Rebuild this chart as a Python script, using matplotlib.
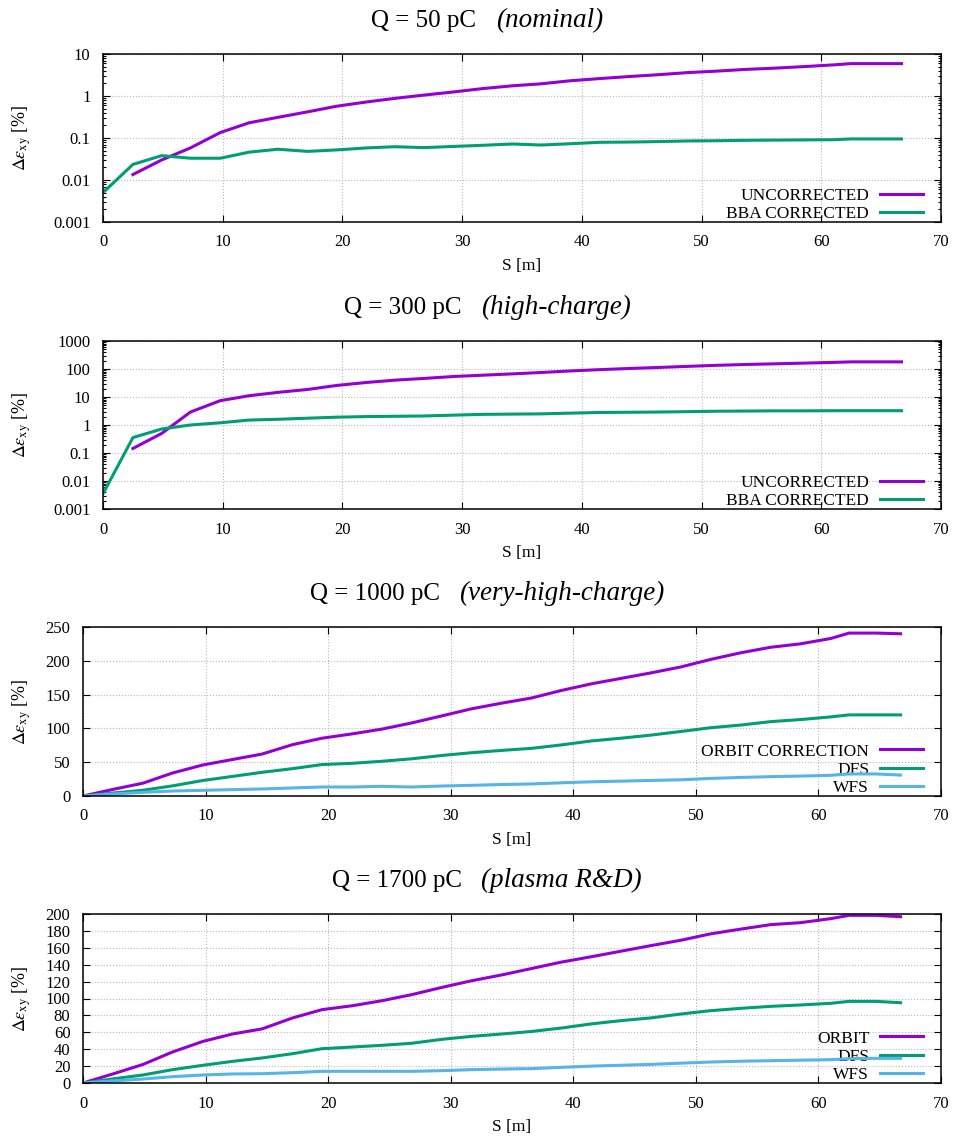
import numpy as np
import matplotlib
matplotlib.use('Agg')
import matplotlib.pyplot as plt
from matplotlib.ticker import LogLocator, NullFormatter, FixedLocator
from matplotlib.offsetbox import TextArea, HPacker, AnchoredOffsetbox

plt.rcParams['font.family'] = ['Liberation Serif', 'DejaVu Serif']
plt.rcParams['mathtext.fontset'] = 'stix'

# Position along the linac [m]
S = [0, 2.5, 4.9, 7.3, 9.8, 12.2, 14.6, 17.1, 19.5, 22.0, 24.4, 26.8, 29.3, 31.7,
     34.2, 36.6, 39.0, 41.5, 43.9, 46.3, 48.8, 51.2, 53.7, 56.1, 58.5, 61.0,
     62.5, 64.7, 66.7]
nan = np.nan

# Q = 50 pC
unc_50 = [nan, 0.0135, 0.030, 0.058, 0.135, 0.23, 0.31, 0.42, 0.57, 0.72, 0.88,
          1.05, 1.25, 1.5, 1.75, 1.95, 2.3, 2.6, 2.9, 3.2, 3.6, 3.9, 4.3, 4.6,
          5.0, 5.5, 5.9, 5.9, 5.9]
bba_50 = [0.005, 0.0235, 0.038, 0.033, 0.033, 0.046, 0.054, 0.048, 0.052, 0.058,
          0.062, 0.059, 0.063, 0.067, 0.072, 0.068, 0.073, 0.079, 0.080, 0.082,
          0.085, 0.086, 0.088, 0.089, 0.090, 0.091, 0.095, 0.095, 0.095]

# Q = 300 pC
unc_300 = [nan, 0.145, 0.5, 2.9, 7.4, 11.1, 14.6, 18.6, 25.8, 33, 40, 46, 54, 60,
           67, 75, 85, 95, 104, 113, 124, 135, 145, 153, 162, 172, 180, 180, 180]
bba_300 = [0.0035, 0.355, 0.72, 1.0, 1.2, 1.5, 1.6, 1.75, 1.9, 2.0, 2.05, 2.1,
           2.25, 2.4, 2.45, 2.5, 2.65, 2.8, 2.85, 2.9, 3.0, 3.1, 3.15, 3.2, 3.2,
           3.24, 3.24, 3.24, 3.24]

# Q = 1000 pC
orbit_1000 = [0, 10, 19, 34, 46, 54, 62, 76, 85.5, 92, 99, 108, 118.6, 129, 137.5,
              145, 156, 166, 174, 182, 191, 202, 212, 220, 225, 233, 241, 241, 240]
dfs_1000 = [0, 4.5, 8.5, 15, 23, 29, 35, 40.5, 46.5, 48.4, 51.4, 55, 60, 64, 67.5,
            70.5, 75.5, 81.5, 85.5, 90, 95.5, 101, 105, 110, 113, 117, 120, 120, 120]
wfs_1000 = [0, 3, 5.4, 7.4, 8.4, 9.4, 10.4, 11.9, 13.3, 13.3, 14.3, 13.3, 14.8,
            15.8, 17, 17.8, 19.5, 21, 22, 23, 24, 26, 27.5, 28.6, 29.5, 30.6, 32.6,
            32.6, 31]

# Q = 1700 pC
orbit_1700 = [0, 11, 22, 36.7, 49.3, 58, 64, 77, 86.8, 91.5, 97.4, 104.5, 113.2,
              121, 128, 135.5, 143, 149.5, 156, 162.5, 169, 176.5, 182.2, 187.4,
              189.7, 194.5, 198.4, 198.4, 196.8]
dfs_1700 = [0, 5, 9.5, 15.8, 21, 25.6, 29.6, 34.7, 40.6, 42.6, 44.6, 47, 51.7, 55.2,
            58, 61, 65, 70, 73.8, 77, 81.7, 85.6, 88.4, 90.7, 92.3, 94.3, 96.6,
            96.6, 95]
wfs_1700 = [0, 2.5, 4.7, 7.5, 9.5, 10.7, 11, 12.2, 13.8, 13.8, 13.8, 13.8, 14.6,
            15.8, 16.5, 17, 18.5, 20, 21, 22, 23.5, 24.8, 25.8, 26.4, 27, 27.6,
            28.8, 29.2, 29.2]

log_ticks_50 = [0.001, 0.01, 0.1, 1, 10]
log_labels_50 = ['0.001', '0.01', '0.1', '1', '10']
log_ticks_300 = [0.001, 0.01, 0.1, 1, 10, 100, 1000]
log_labels_300 = ['0.001', '0.01', '0.1', '1', '10', '100', '1000']

PURPLE = '#9400d3'
GREEN = '#009e73'
BLUE = '#56b4e9'

W, H = 957, 1137
RIGHT = 941
fig = plt.figure(figsize=(W / 100, H / 100), dpi=100)


def make_axes(left, top, bottom):
    return fig.add_axes([left / W, 1 - bottom / H, (RIGHT - left) / W, (bottom - top) / H])


def style_axes(ax, left, top, bottom):
    h = bottom - top
    ax.set_xlim(0, 70)
    ax.set_xticks(range(0, 71, 10))
    ax.tick_params(which='both', direction='in', top=True, right=True,
                   labelsize=12, width=0.8, pad=9)
    ax.tick_params(which='major', length=5)
    ax.tick_params(which='minor', length=2.5)
    for sp in ax.spines.values():
        sp.set_linewidth(1.1)
    ax.set_axisbelow(True)
    ax.grid(True, which='major', color='#b8b8b8', linestyle=':', linewidth=0.8)
    ax.set_xlabel('S [m]', fontsize=12.5)
    ax.xaxis.set_label_coords(0.5, -36 / h)
    ax.set_ylabel(r'$\Delta\varepsilon_{\mathrm{xy}}$ [%]', fontsize=13)
    ax.yaxis.set_label_coords((33 - left) / (RIGHT - left), 0.5)


def add_title(top, plain, italic):
    box = HPacker(children=[TextArea(plain, textprops=dict(fontsize=18)),
                            TextArea(italic, textprops=dict(fontsize=19.5, style='italic'))],
                  align='baseline', pad=0, sep=14)
    anchored = AnchoredOffsetbox(loc='lower center', child=box, pad=0, borderpad=0,
                                 frameon=False, bbox_to_anchor=(487 / W, 1 - (top - 21) / H),
                                 bbox_transform=fig.transFigure)
    fig.add_artist(anchored)


def add_legend(ax, left):
    leg = ax.legend(loc='lower right', frameon=False, markerfirst=False, fontsize=12.5,
                    handlelength=2.5, handletextpad=0.6, labelspacing=0.12,
                    borderpad=0, borderaxespad=0,
                    bbox_to_anchor=((923 - left) / (RIGHT - left), 0.0))
    leg.set_zorder(1)


panels = [
    dict(lt=103, tp=54, bt=222, title=('Q = 50 pC', '(nominal)')),
    dict(lt=103, tp=341, bt=509, title=('Q = 300 pC', '(high-charge)')),
    dict(lt=83, tp=627, bt=796, title=('Q = 1000 pC', '(very-high-charge)')),
    dict(lt=83, tp=914, bt=1083, title=('Q = 1700 pC', '(plasma R&D)')),
]
axes = []
for p in panels:
    axes.append(make_axes(p['lt'], p['tp'], p['bt']))
    add_title(p['tp'], *p['title'])

lw = 2.2
# Panel 1
ax = axes[0]
ax.set_yscale('log')
ax.plot(S, unc_50, color=PURPLE, lw=lw, label='UNCORRECTED', zorder=2)
ax.plot(S, bba_50, color=GREEN, lw=lw, label='BBA CORRECTED', zorder=2)
ax.set_ylim(0.001, 10)
ax.yaxis.set_major_locator(FixedLocator(log_ticks_50))
ax.set_yticklabels(log_labels_50)
ax.yaxis.set_minor_locator(LogLocator(base=10, subs=range(2, 10), numticks=20))
ax.yaxis.set_minor_formatter(NullFormatter())

# Panel 2
ax = axes[1]
ax.set_yscale('log')
ax.plot(S, unc_300, color=PURPLE, lw=lw, label='UNCORRECTED', zorder=2)
ax.plot(S, bba_300, color=GREEN, lw=lw, label='BBA CORRECTED', zorder=2)
ax.set_ylim(0.001, 1000)
ax.yaxis.set_major_locator(FixedLocator(log_ticks_300))
ax.set_yticklabels(log_labels_300)
ax.yaxis.set_minor_locator(LogLocator(base=10, subs=range(2, 10), numticks=20))
ax.yaxis.set_minor_formatter(NullFormatter())

# Panel 3
ax = axes[2]
ax.plot(S, orbit_1000, color=PURPLE, lw=lw, label='ORBIT CORRECTION', zorder=2)
ax.plot(S, dfs_1000, color=GREEN, lw=lw, label='DFS', zorder=2)
ax.plot(S, wfs_1000, color=BLUE, lw=lw, label='WFS', zorder=2)
ax.set_ylim(0, 250)
ax.set_yticks(range(0, 251, 50))

# Panel 4
ax = axes[3]
ax.plot(S, orbit_1700, color=PURPLE, lw=lw, label='ORBIT', zorder=2)
ax.plot(S, dfs_1700, color=GREEN, lw=lw, label='DFS', zorder=2)
ax.plot(S, wfs_1700, color=BLUE, lw=lw, label='WFS', zorder=2)
ax.set_ylim(0, 200)
ax.set_yticks(range(0, 201, 20))

for ax, p in zip(axes, panels):
    style_axes(ax, p['lt'], p['tp'], p['bt'])
    add_legend(ax, p['lt'])

fig.savefig('out.png', dpi=100)
